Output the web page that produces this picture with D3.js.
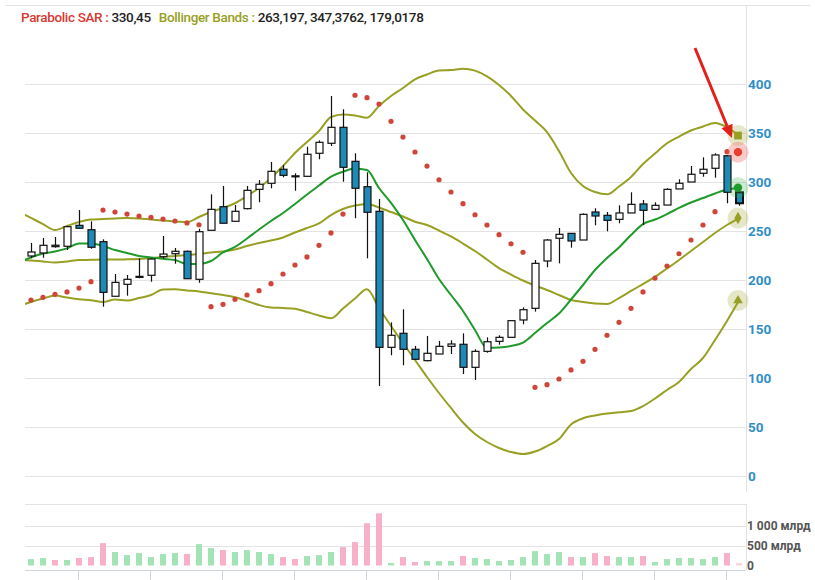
<!DOCTYPE html>
<html><head><meta charset="utf-8">
<script src="https://cdn.jsdelivr.net/npm/d3@7"></script>
<style>
html,body{margin:0;padding:0;background:#fff;}
svg{display:block;font-family:Roboto,"Liberation Sans",Arial,sans-serif;}
</style></head>
<body><svg id="chart" width="815" height="580"></svg>
<script>
// ---------- DATA ----------
const opens  = [224.5,227.6,235.5,234.4,255.8,251.3,239.1,183.4,195.6,202.7,204.8,223.8,226.8,229.3,200.7,250.7,274.8,259.9,272.8,292.5,298.7,313,306.3,305.8,329.3,339.5,355.8,321.1,295.2,270.1,131.3,145.6,129.3,117.7,124.5,132.3,134.4,110.9,127.2,137.4,141.5,159.2,171.1,219.4,242.6,247.6,240.8,269.4,266,261.9,268.4,277.6,272.1,276.5,292.9,300,308.9,314,326.8,289.5];
const highs  = [237.8,242.9,243.9,255.4,271.4,259.9,241.5,206.1,205.1,222.1,222.1,244.9,232.7,230,252.3,287.4,295.9,276.5,295.9,302,320.4,317.3,308.9,336,342.5,387.8,374.2,329.3,309.9,282.7,156.8,170.1,132.7,142.9,137.8,138.5,145.6,129.3,141.5,143.6,158.5,172.1,220.4,241.8,253.1,247.7,268,273.2,269.4,276.2,289.5,281.6,279.3,293.6,302.8,316.3,325.2,329.3,327.6,291.1];
const lows   = [222.4,222.8,233,230.6,252.5,231.9,172.8,183.4,184,201.7,198.3,221.7,216.6,201.3,197.2,250.7,257.9,259.9,272.1,279.3,293.6,304.8,291.1,305.8,323.2,336.7,300.3,263,222.1,91.8,123.2,113,118.4,117,124.5,124.5,104.1,98,125.8,134,141.5,154.8,167.7,213,217,233,240.8,255.8,249.7,257.9,268.4,256.1,272.1,276.5,292.9,300,305.4,304.4,278.3,275.8];
const closes = [228.6,235.4,234,254.4,252.8,233.4,187.4,197.6,200.7,203.7,221.4,226.5,229.3,201.3,249.3,272.1,257.9,270.1,291.5,297.7,310.9,306.8,305.5,328.3,340.5,355.8,315,293.6,269.1,131.3,143.6,129.3,119.1,125.2,132.3,134.7,110.9,127.2,137,141.5,158.5,169.7,217,240.8,246.6,239.8,267,265.3,260.9,268.4,277.2,271.1,276.2,292.5,298.7,307.9,313,327.6,289.5,278.3];
// volume, billions (млрд)
const volumes = [162,188,138,138,188,212,562,338,262,312,212,288,312,288,538,438,388,338,388,338,288,212,162,238,262,338,462,588,1062,1312,62,212,88,112,112,112,238,188,162,112,138,212,362,288,338,212,212,312,238,212,212,238,88,162,188,188,162,212,312,62];
// Parabolic SAR, one per candle
const sarValues = [179.6,182.3,185.4,187.8,191.8,198.3,271.4,269.4,267.3,265.3,264,262.2,260.2,258.2,256.4,172.8,175.2,180.3,184.7,189.1,196.2,206.1,215.3,223.5,235.4,248,267.3,388.5,386,379.6,361.9,345.9,330.6,316.3,302.3,289.8,277.9,266.6,256.1,246.2,237,228.3,90.5,93.2,99,108.2,117,129.3,143.6,156.8,171.1,187.8,202,214.3,226.8,240.8,256.1,269.7,330.9,330.45];
// Lines: first value belongs to the candle before the visible window (index -1)
const bbUpper  = [269.4,263.3,257.1,251,255.1,259.2,261.7,262.2,262.8,263.3,262.8,261.7,260.7,259.7,259.2,264.3,269.4,273.5,278.3,285.7,293.9,304.1,316.3,329.6,340.8,352,366.3,368.9,367.9,365.6,377.6,387.8,395.9,404.8,409.7,413.8,414.3,415.6,413.6,407.7,399,387.8,374,362.8,351,331.6,309.2,295.9,289.8,287.4,295.4,305.1,318.4,329.1,339.5,346.4,352.6,356.6,360.2,355.8,347.3762];
const bbMiddle = [220.1,219.9,218.9,217.9,218.9,220.4,220.6,220.9,220.9,221.1,221.4,222.1,223.5,224.5,225.5,226.5,228.1,229.1,231.1,234.7,237.8,240.3,243.4,248.5,253.1,257.7,266.3,272.4,276,277.6,274,269.4,264.8,259.5,256.1,250.5,244.4,237.2,229.6,220.9,212.2,205.6,199.5,194.4,189.8,184.7,179.6,177.6,176,175.5,181.6,188.8,195.9,203.1,211.7,220.4,229.6,238.8,248,256.1,263.197];
const bbLower  = [173.5,177.6,181.1,184.2,182.1,180.3,179.3,177.6,180.1,179.1,181.6,184.7,190.3,190.5,189.3,188.3,186.4,184.7,182.4,178.6,174.5,171.9,171.4,170.7,167.3,163.8,160.9,170.9,181.1,190.5,171.4,153.1,135.7,118.4,101,84.7,69.4,54.6,42.9,34.7,28.6,24.5,22.4,25,30.6,37.8,52.6,58.9,61.7,63.8,65,66.3,71.4,79.1,87.8,95.9,109.2,120.4,138.8,158.2,179.0178];
const maGreen  = [217.9,223,227,229.1,232.3,237.2,237.2,234.7,230.6,227.6,224.5,223,221.6,220.4,216.3,216.3,219.4,228.1,233.7,242.3,251.5,260.2,268.4,277.6,287.2,296.4,305.6,310.5,313.8,312.2,293.9,278.6,261.2,240.8,221.4,201,184.7,168.4,149,130.6,131.1,132.7,136.2,145.9,156.1,165.8,180.1,194.9,210.2,222.4,233.2,245.9,257.1,261.7,267.3,273.5,279.1,283.7,288.3,292.3,294.2];
const priceTicks  = [0,50,100,150,200,250,300,350,400];
const volumeTicks = [0,500,1000];
const volumeTickLabels = ["0","500 млрд","1 000 млрд"];
const sarLabel = "330,45";
const bbLabel = "263,197, 347,3762, 179,0178";

// ---------- STYLE ----------
const C = {grid:"#e3e3e3", axis:"#cdd5de", up:"#ffffff", down:"#1f8ab6", olive:"#98a023",
           green:"#1f9a2b", sar:"#cf4539", volUp:"#a3e4b7", volDown:"#f6b0c8",
           priceLabel:"#2f8ec6", volLabel:"#555"};

const svg = d3.select("#chart");
const n = closes.length;
const x = d3.scaleLinear().domain([0, n-1]).range([31, 739]);
const y = d3.scaleLinear().domain([0, 400]).range([476, 84]);
const yv = d3.scaleLinear().domain([0, 1000]).range([565.5, 525.7]);
const left = 25, right = 746;

// top border
svg.append("line").attr("x1",5).attr("x2",810).attr("y1",5.5).attr("y2",5.5).attr("stroke",C.grid);

// header
const hdr = svg.append("text").attr("x",21).attr("y",22).attr("font-size",13.5).attr("font-weight",500)
  .attr("letter-spacing",-0.35);
hdr.append("tspan").attr("fill","#d63a30").text("Parabolic SAR : ");
hdr.append("tspan").attr("fill","#222").text(sarLabel);
hdr.append("tspan").attr("fill",C.olive).attr("dx",8).text("Bollinger Bands : ");
hdr.append("tspan").attr("fill","#222").text(bbLabel);

// price grid + axis
svg.append("g").selectAll("line").data(priceTicks).join("line")
  .attr("x1",left).attr("x2",right).attr("y1",d=>Math.round(y(d))+0.5).attr("y2",d=>Math.round(y(d))+0.5)
  .attr("stroke",C.grid);
svg.append("line").attr("x1",right+0.5).attr("x2",right+0.5).attr("y1",5).attr("y2",492).attr("stroke",C.grid);
const pAxis = svg.append("g").attr("transform",`translate(${right},0)`)
  .call(d3.axisRight(y).tickValues(priceTicks).tickSize(0).tickPadding(2).tickFormat(d3.format("d")));
pAxis.select(".domain").remove();
pAxis.selectAll("text").attr("fill",C.priceLabel).attr("font-size",13.5).attr("font-weight",700)
  .attr("font-family","Roboto,'Liberation Sans',Arial,sans-serif");

// clip
svg.append("clipPath").attr("id","clip").append("rect").attr("x",left).attr("y",0).attr("width",right-left).attr("height",500);
const plot = svg.append("g").attr("clip-path","url(#clip)");

const lineGen = d3.line().x((d,i)=>x(i-1)).y(d=>y(d)).curve(d3.curveMonotoneX);
[[bbUpper,C.olive],[bbMiddle,C.olive],[bbLower,C.olive],[maGreen,C.green]].forEach(([arr,col])=>{
  plot.append("path").datum(arr).attr("d",lineGen).attr("fill","none").attr("stroke",col).attr("stroke-width",2);
});

// SAR dots (last one is covered by marker)
plot.append("g").selectAll("circle").data(sarValues.slice(0,n-1)).join("circle")
  .attr("cx",(d,i)=>x(i)).attr("cy",d=>y(d)).attr("r",2.6).attr("fill",C.sar);

// candles
const cg = plot.append("g");
const idx = d3.range(n);
cg.selectAll("line.w").data(idx).join("line").attr("class","w")
  .attr("x1",i=>Math.round(x(i))+0.5).attr("x2",i=>Math.round(x(i))+0.5)
  .attr("y1",i=>y(highs[i])).attr("y2",i=>y(lows[i])).attr("stroke","#111").attr("stroke-width",1.2);
cg.selectAll("rect").data(idx).join("rect")
  .attr("x",i=>Math.round(x(i))-3).attr("width",7)
  .attr("y",i=>y(Math.max(opens[i],closes[i])))
  .attr("height",i=>Math.max(1,Math.abs(y(opens[i])-y(closes[i]))))
  .attr("fill",i=>closes[i]>=opens[i]?C.up:C.down)
  .attr("stroke","#111").attr("stroke-width",i=>i===n-1?2:1.2);

// end-of-series markers
const mx = 738;
const markers = [
  {v:bbUpper[bbUpper.length-1], col:C.olive, halo:"rgba(152,160,35,0.25)", shape:d3.symbolSquare, size:60},
  {v:sarValues[n-1], col:"#e8402e", halo:"rgba(240,110,100,0.35)", shape:d3.symbolCircle, size:55},
  {v:maGreen[maGreen.length-1], col:C.green, halo:"rgba(60,170,70,0.25)", shape:d3.symbolCircle, size:55},
  {v:bbMiddle[bbMiddle.length-1], col:C.olive, halo:"rgba(152,160,35,0.25)", shape:d3.symbolDiamond, size:45},
  {v:bbLower[bbLower.length-1], col:C.olive, halo:"rgba(152,160,35,0.25)", shape:d3.symbolTriangle, size:40}
];
const mg = svg.append("g");
markers.forEach(m=>{
  mg.append("circle").attr("cx",mx).attr("cy",y(m.v)).attr("r",10.5).attr("fill",m.halo);
  mg.append("path").attr("transform",`translate(${mx},${y(m.v)})`).attr("d",d3.symbol().type(m.shape).size(m.size)()).attr("fill",m.col);
});

// red arrow
const ax1=695, ay1=48, ax2=732, ay2=138;
const ang = Math.atan2(ay2-ay1, ax2-ax1);
const hl=13, hw=6;
const bx = ax2-hl*Math.cos(ang), by = ay2-hl*Math.sin(ang);
svg.append("line").attr("x1",ax1).attr("y1",ay1).attr("x2",bx).attr("y2",by).attr("stroke","#e3211c").attr("stroke-width",3);
svg.append("path").attr("fill","#e3211c")
  .attr("d",`M${ax2},${ay2}L${bx+hw*Math.sin(ang)},${by-hw*Math.cos(ang)}L${bx-hw*Math.sin(ang)},${by+hw*Math.cos(ang)}Z`);

// ---------- VOLUME PANEL ----------
svg.append("line").attr("x1",left).attr("x2",right).attr("y1",504.5).attr("y2",504.5).attr("stroke",C.grid);
svg.append("g").selectAll("line").data(volumeTicks.slice(1)).join("line")
  .attr("x1",left).attr("x2",right).attr("y1",d=>Math.round(yv(d))+0.5).attr("y2",d=>Math.round(yv(d))+0.5).attr("stroke",C.grid);
svg.append("line").attr("x1",right+0.5).attr("x2",right+0.5).attr("y1",504).attr("y2",570).attr("stroke",C.grid);
svg.append("g").selectAll("rect").data(idx).join("rect")
  .attr("x",i=>Math.round(x(i))-3).attr("width",6)
  .attr("y",i=>yv(volumes[i])).attr("height",i=>yv(0)-yv(volumes[i]))
  .attr("fill",i=>closes[i]>=opens[i]?C.volUp:C.volDown)
  .attr("opacity",i=>i===n-1?0.55:1);
const vAxis = svg.append("g").attr("transform",`translate(${right},0)`)
  .call(d3.axisRight(yv).tickValues(volumeTicks).tickSize(0).tickPadding(1).tickFormat((d,i)=>volumeTickLabels[i]));
vAxis.select(".domain").remove();
vAxis.selectAll("text").attr("fill",C.volLabel).attr("font-size",12).attr("font-weight",700)
  .attr("font-family","Roboto,'Liberation Sans',Arial,sans-serif");
// x axis baseline and ticks
svg.append("line").attr("x1",left).attr("x2",right).attr("y1",570.5).attr("y2",570.5).attr("stroke",C.axis);
const tickIdx = d3.range(4, n, 6);
svg.append("g").selectAll("line").data(tickIdx).join("line")
  .attr("x1",i=>Math.round(x(i))-0.5).attr("x2",i=>Math.round(x(i))-0.5).attr("y1",570).attr("y2",580).attr("stroke",C.axis);
</script></body></html>
